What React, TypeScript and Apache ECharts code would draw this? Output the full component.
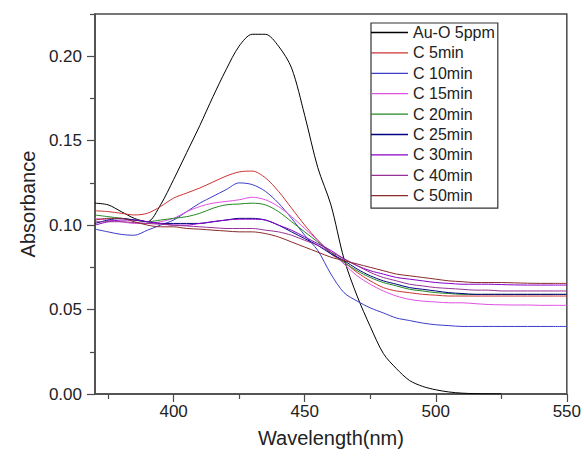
import React, { useEffect, useRef } from "react";
import * as echarts from "echarts";

const wavelengths = [370, 375, 380, 385, 390, 395, 400, 405, 410, 415, 420, 425, 430, 435, 440, 445, 450, 455, 460, 465, 470, 475, 480, 485, 490, 495, 500, 505, 510, 515, 520, 525, 530, 535, 540, 545, 550];

const auO5ppm = [0.113, 0.112, 0.108, 0.104, 0.102, 0.112, 0.127, 0.143, 0.159, 0.176, 0.192, 0.206, 0.213, 0.213, 0.206, 0.193, 0.165, 0.134, 0.112, 0.08, 0.058, 0.04, 0.024, 0.015, 0.008, 0.0045, 0.0025, 0.0012, 0.0005, 0.0002, 0.0001, 0.0001, null, null, null, null, null];
const c5min = [0.1085, 0.108, 0.107, 0.106, 0.107, 0.111, 0.116, 0.119, 0.122, 0.1255, 0.129, 0.1315, 0.132, 0.128, 0.12, 0.11, 0.1, 0.091, 0.083, 0.078, 0.072, 0.067, 0.063, 0.061, 0.06, 0.059, 0.0585, 0.058, 0.058, 0.058, 0.058, 0.058, 0.058, 0.058, 0.058, 0.058, 0.058];
const c10min = [0.0976, 0.096, 0.0945, 0.094, 0.097, 0.1, 0.103, 0.108, 0.113, 0.117, 0.121, 0.125, 0.124, 0.12, 0.113, 0.104, 0.094, 0.085, 0.071, 0.06, 0.055, 0.051, 0.048, 0.045, 0.0435, 0.042, 0.041, 0.0405, 0.04, 0.04, 0.04, 0.04, 0.04, 0.04, 0.04, 0.04, 0.04];
const c15min = [0.104, 0.103, 0.102, 0.101, 0.101, 0.102, 0.104, 0.108, 0.111, 0.113, 0.114, 0.115, 0.1165, 0.115, 0.111, 0.105, 0.098, 0.091, 0.084, 0.077, 0.07, 0.065, 0.061, 0.058, 0.056, 0.055, 0.0545, 0.054, 0.054, 0.0535, 0.053, 0.0528, 0.0527, 0.0527, 0.0525, 0.0525, 0.0525];
const c20min = [0.106, 0.105, 0.104, 0.103, 0.102, 0.103, 0.104, 0.105, 0.107, 0.11, 0.112, 0.1125, 0.113, 0.112, 0.108, 0.102, 0.096, 0.09, 0.084, 0.078, 0.073, 0.069, 0.066, 0.064, 0.062, 0.061, 0.06, 0.0595, 0.059, 0.059, 0.059, 0.059, 0.059, 0.059, 0.059, 0.059, 0.059];
const c25min = [0.101, 0.103, 0.104, 0.103, 0.102, 0.101, 0.101, 0.101, 0.101, 0.102, 0.103, 0.104, 0.104, 0.103, 0.1, 0.096, 0.092, 0.088, 0.083, 0.079, 0.074, 0.07, 0.067, 0.065, 0.063, 0.062, 0.061, 0.06, 0.0595, 0.059, 0.059, 0.059, 0.059, 0.059, 0.059, 0.059, 0.059];
const c30min = [0.1, 0.102, 0.103, 0.103, 0.102, 0.101, 0.1, 0.1, 0.101, 0.102, 0.103, 0.1035, 0.1035, 0.103, 0.1, 0.097, 0.093, 0.089, 0.085, 0.08, 0.076, 0.073, 0.071, 0.069, 0.068, 0.067, 0.066, 0.0655, 0.065, 0.065, 0.065, 0.0648, 0.0646, 0.0645, 0.0645, 0.0645, 0.0645];
const c40min = [0.102, 0.102, 0.102, 0.1015, 0.101, 0.1005, 0.1, 0.0995, 0.099, 0.0985, 0.098, 0.098, 0.098, 0.097, 0.096, 0.094, 0.091, 0.088, 0.084, 0.08, 0.076, 0.072, 0.069, 0.067, 0.065, 0.064, 0.063, 0.0625, 0.062, 0.0615, 0.0615, 0.061, 0.061, 0.061, 0.061, 0.061, 0.061];
const c50min = [0.103, 0.104, 0.104, 0.102, 0.1, 0.099, 0.099, 0.098, 0.0976, 0.097, 0.0965, 0.096, 0.096, 0.095, 0.093, 0.09, 0.087, 0.084, 0.081, 0.079, 0.077, 0.075, 0.073, 0.071, 0.07, 0.069, 0.068, 0.067, 0.0665, 0.066, 0.066, 0.066, 0.0658, 0.0656, 0.0655, 0.0655, 0.0655];

const seriesNames = ["Au-O 5ppm", "C 5min", "C 10min", "C 15min", "C 20min", "C 25min", "C 30min", "C 40min", "C 50min"];
const seriesValues = [auO5ppm, c5min, c10min, c15min, c20min, c25min, c30min, c40min, c50min];
const seriesColors = ["#000000", "#cc3333", "#3b3bc8", "#e050e0", "#228822", "#000080", "#8a00c8", "#953095", "#8a2a2a"];

const xMajorTicks = [400, 450, 500, 550];
const xMinorTicks = [375, 425, 475, 525];
const yMajorTicks = [0, 0.05, 0.1, 0.15, 0.2];
const yMinorTicks = [0.025, 0.075, 0.125, 0.175, 0.225];

const FONT = "'Liberation Sans', Arial, sans-serif";
const AXIS_COLOR = "#4a4a4a";
const TEXT_COLOR = "#222";

export default function App() {
  const ref = useRef<HTMLDivElement>(null);
  useEffect(() => {
    document.body.style.margin = "0";
    if (!ref.current) return;
    const chart = echarts.init(ref.current, null, { renderer: "svg" });
    const axisBase = {
      type: "value" as const,
      splitLine: { show: false },
      axisLine: { show: true, onZero: false, lineStyle: { color: AXIS_COLOR, width: 1.5 } },
    };
    chart.setOption({
      animation: false,
      backgroundColor: "#ffffff",
      grid: {
        left: 95,
        top: 14,
        width: 473,
        height: 380,
        show: true,
        borderColor: AXIS_COLOR,
        borderWidth: 1.5,
        backgroundColor: "transparent",
      },
      legend: {
        orient: "vertical",
        left: 371,
        top: 23,
        padding: [0, 3, 3, 0],
        icon: "rect",
        itemWidth: 37,
        itemHeight: 1.3,
        itemGap: 1.4,
        borderColor: "#333",
        borderWidth: 1.2,
        data: seriesNames,
        textStyle: { fontFamily: FONT, fontSize: 16, color: TEXT_COLOR, lineHeight: 19 },
      },
      xAxis: [
        {
          ...axisBase,
          min: 370,
          max: 550,
          position: "bottom",
          name: "Wavelength(nm)",
          nameLocation: "middle",
          nameGap: 34,
          nameTextStyle: { fontFamily: FONT, fontSize: 20, color: TEXT_COLOR },
          axisTick: { show: true, inside: false, length: 8, customValues: xMajorTicks, lineStyle: { color: AXIS_COLOR, width: 1.2 } },
          axisLabel: { show: true, customValues: xMajorTicks, margin: 9, fontFamily: FONT, fontSize: 17, color: TEXT_COLOR },
        },
        {
          type: "value",
          min: 370,
          max: 550,
          position: "bottom",
          splitLine: { show: false },
          axisLine: { show: false },
          axisLabel: { show: false },
          axisTick: { show: true, inside: false, length: 5, customValues: xMinorTicks, lineStyle: { color: AXIS_COLOR, width: 1.2 } },
        },
      ],
      yAxis: [
        {
          ...axisBase,
          min: 0,
          max: 0.225,
          position: "left",
          name: "Absorbance",
          nameLocation: "middle",
          nameGap: 57,
          nameTextStyle: { fontFamily: FONT, fontSize: 20, color: TEXT_COLOR },
          axisTick: { show: true, inside: false, length: 8, customValues: yMajorTicks, lineStyle: { color: AXIS_COLOR, width: 1.2 } },
          axisLabel: {
            show: true,
            customValues: yMajorTicks,
            margin: 13,
            fontFamily: FONT,
            fontSize: 17,
            color: TEXT_COLOR,
            formatter: (v: number) => v.toFixed(2),
          },
        },
        {
          type: "value",
          min: 0,
          max: 0.225,
          position: "left",
          splitLine: { show: false },
          axisLine: { show: false },
          axisLabel: { show: false },
          axisTick: { show: true, inside: false, length: 5, customValues: yMinorTicks, lineStyle: { color: AXIS_COLOR, width: 1.2 } },
        },
      ],
      series: seriesNames.map((name, i) => ({
        name,
        type: "line",
        xAxisIndex: 0,
        yAxisIndex: 0,
        symbol: "none",
        smooth: 0.3,
        connectNulls: false,
        clip: true,
        lineStyle: { width: 1, color: seriesColors[i] },
        itemStyle: { color: seriesColors[i] },
        data: wavelengths.map((w, j) => [w, seriesValues[i][j]]),
      })),
    });
    return () => chart.dispose();
  }, []);
  return <div ref={ref} style={{ position: "absolute", left: 0, top: 0, width: 584, height: 457 }} />;
}
